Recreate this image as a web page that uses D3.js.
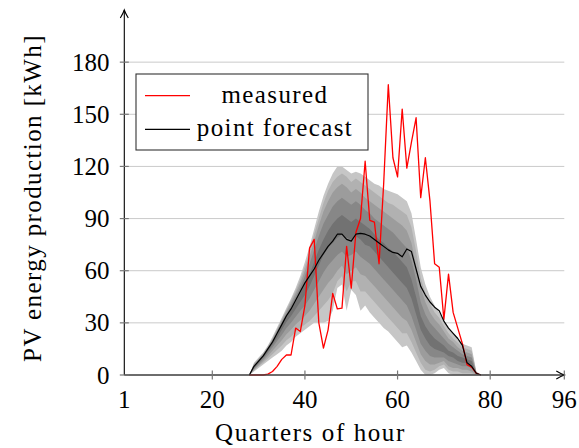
<!DOCTYPE html>
<html>
<head>
<meta charset="utf-8">
<script src="https://cdn.jsdelivr.net/npm/d3@7"></script>
<style>
  html, body { margin: 0; padding: 0; background: #fff; }
  svg { display: block; }
</style>
</head>
<body>
<svg id="chart" width="579" height="448"></svg>
<script>
// ---------- data ----------
const quarters = [28,29,30,31,32,33,34,35,36,37,38,39,40,41,42,43,44,45,46,47,48,49,50,51,52,53,54,55,56,57,58,59,60,61,62,63,64,65,66,67,68,69,70,71,72,73,74,75,76,77,78];

const measured = [0,0,0,0,0.5,2,5,9,11.5,11.5,27,25,40,73,78,30,15.5,26,47,38,38.5,74,50,82,90,123,89,88,64,110,167,125,114,153,119,134,148,102,125,100,64,62,32,58,36,27,18,6,4.5,1,0];

const pointForecast = [0,5,8,11,15,19,24,29,34,38,43,48,53,57,61,66,70,74,77,81,81,78,77,81,81.5,81,80,78,76,74,72,70.5,70,68,72.5,71,61,51,46,42,39,37,31,27,24,21,17,7,5,1,0];

// quantile bounds (lower / upper of nested prediction intervals)
const q05 = [0,2,4,6,8,10,12,14,17,19, 22,24,26,28,30,30,30,31,37,50, 52,37,49,46,37,40,36,33,30,27, 25,22,19,16,17,13,8,3,0,0, 1,3,4,1,0,0,0,0,0,0, 0];
const q15 = [0,2.5,5,7,9.5,12,14.5,17,20,22, 25,27,29,31,34,37,40,43,47,54, 57,48,54,54,48,48,45,42,39,36, 33,30,27,24,24,19,13,7,3,2, 3,5,6,3,2,2,1,1,1,0, 0];
const q25 = [0,3,5.5,8,11,14,17,20,23.5,26, 29,31.5,34,37,41,45,49,53,56,60, 63,58,60,62,58,57,54,51,48,45, 42,39,36,33,31,26,19,12,8,6, 6,7,8,5,4,4,3,3,2,0.5, 0];
const q35 = [0,3.5,6.5,9,12.5,16,19.5,23,27,30, 33.5,37,40,44,49,54,59,63,66,69, 71,68,69,71,68,66,64,61,58,55, 52,49,46,43,40,34,26,18,14,11, 10,10,10,8,7,6,5,5,4,0.5, 0];
const q45 = [0,4,7,10,13.5,17.5,21.5,26,30.5,34, 38,42,46,51,57,63,69,73,76,79, 81,79,78,80,78,75,74,71,68,65, 62,59,56,53,50,44,35,26,21,17, 15,14,13,11,10,8,7,7,6,1, 0];
const q55 = [0,5,8,11,14.5,19,23.5,28.5,33,37.5, 42,47,52,58,65,72,78,83,87,90, 92,90,88,90,88,86,84,81,78,76, 73,71,68,65,62,55,45,34,28,24, 21,19,17,14,13,11,10,9,8,1, 0];
const q65 = [0,5.5,8.5,11.5,15.5,20,25,30,35,40, 45,50.5,57,64,72,80,87,92,97,100, 102,100,98,100,98,95,93,90,88,86, 84,82,79,76,73,66,55,42,35,30, 27,24,21,18,16,14,12,11,10,1.5, 0];
const q75 = [0,6,9,12,16,20.5,26,31,36.5,41.5, 47,53,60,68,77,86,94,100,105,108, 110,108,105,107,105,102,100,98,96,94, 92,90,88,86,83,76,63,50,42,36, 32,29,25,21,19,16,14,13,12,1.5, 0];
const q85 = [0,6.5,9.5,12.5,16.5,21,26.5,32,37.5,43, 48.5,55,62.5,71,81,90,99,106,111,114, 116,114,111,113,111,109,107,105,103,101, 99,98,96,94,92,85,71,56,47,41, 36,33,28,24,21,18.5,16,15,14,2, 0];
const q95 = [0,7,10,13,17,22,27.5,33,38.5,44, 50,57,65,74,84,94,103,110,116,120, 120,118,116,117,116,114,112,110,109,107, 106,105,104,102,100,93,78,62,52,45, 40,36,31,27,24,21,18,17,16,2, 0];

const bands = [
  {lo: q05, hi: q95, color: "#c6c6c6"},
  {lo: q15, hi: q85, color: "#b1b1b1"},
  {lo: q25, hi: q75, color: "#9c9c9c"},
  {lo: q35, hi: q65, color: "#878787"},
  {lo: q45, hi: q55, color: "#727272"}
];

const yTicks = [0,30,60,90,120,150,180];
const xTicks = [1,20,40,60,80,96];
const xTickMarks = [20,40,60,80,96];
const legendItems = [
  {label: "measured", color: "#ff0000"},
  {label: "point forecast", color: "#000000"}
];

const FONT = '"Liberation Serif"';

// ---------- layout ----------
const svg = d3.select("#chart");
const x = d3.scaleLinear().domain([1, 96]).range([124.3, 564.3]);
const y = d3.scaleLinear().domain([0, 210]).range([375, 10]);

// grid
svg.append("g").selectAll("line").data(yTicks).join("line")
  .attr("x1", x(1)).attr("x2", x(96))
  .attr("y1", d => y(d)).attr("y2", d => y(d))
  .attr("stroke", "#cacaca").attr("stroke-width", 1);

// bands
bands.forEach(b => {
  const area = d3.area()
    .x((d, i) => x(quarters[i]))
    .y0((d, i) => y(b.lo[i]))
    .y1((d, i) => y(b.hi[i]));
  svg.append("path").datum(quarters).attr("d", area).attr("fill", b.color);
});

// lines
const line = arr => d3.line().x((d, i) => x(quarters[i])).y((d, i) => y(arr[i]))(quarters);
svg.append("path").attr("d", line(measured)).attr("fill", "none")
  .attr("stroke", "#ff0000").attr("stroke-width", 1.3).attr("stroke-linejoin", "round");
svg.append("path").attr("d", line(pointForecast)).attr("fill", "none")
  .attr("stroke", "#000").attr("stroke-width", 1.2).attr("stroke-linejoin", "round");

// axes lines
svg.append("line").attr("x1", x(1)).attr("x2", x(96)).attr("y1", y(0)).attr("y2", y(0))
  .attr("stroke", "#444").attr("stroke-width", 1.4);
svg.append("line").attr("x1", x(1)).attr("x2", x(1)).attr("y1", y(0)).attr("y2", y(210))
  .attr("stroke", "#000").attr("stroke-width", 1.1);
// arrow heads
svg.append("path")
  .attr("d", `M${x(1)-4},${y(210)+8} Q${x(1)-1},${y(210)+3} ${x(1)},${y(210)} Q${x(1)+1},${y(210)+3} ${x(1)+4},${y(210)+8}`)
  .attr("fill", "none").attr("stroke", "#000").attr("stroke-width", 1.1);
svg.append("path")
  .attr("d", `M${x(96)-8},${y(0)-4} Q${x(96)-3},${y(0)-1} ${x(96)},${y(0)} Q${x(96)-3},${y(0)+1} ${x(96)-8},${y(0)+4}`)
  .attr("fill", "none").attr("stroke", "#000").attr("stroke-width", 1.1);

// y ticks
svg.append("g").selectAll("line").data(yTicks).join("line")
  .attr("x1", x(1) - 4.5).attr("x2", x(1) + 4.5)
  .attr("y1", d => y(d)).attr("y2", d => y(d))
  .attr("stroke", "#777").attr("stroke-width", 1.2);
svg.append("g").selectAll("text").data(yTicks).join("text")
  .attr("x", 109.5).attr("y", d => y(d) + 8.5)
  .style("font-family", FONT).attr("font-size", 25)
  .attr("text-anchor", "end").text(d => d);

// x ticks
svg.append("g").selectAll("line").data(xTickMarks).join("line")
  .attr("x1", d => x(d)).attr("x2", d => x(d))
  .attr("y1", y(0) - 4.5).attr("y2", y(0) + 4.5)
  .attr("stroke", "#777").attr("stroke-width", 1.2);
svg.append("g").selectAll("text").data(xTicks).join("text")
  .attr("x", d => x(d)).attr("y", 408)
  .style("font-family", FONT).attr("font-size", 25)
  .attr("text-anchor", "middle").text(d => d);

// axis labels
svg.append("text").attr("x", 310.5).attr("y", 441)
  .style("font-family", FONT).attr("font-size", 25).attr("letter-spacing", 1.6)
  .attr("text-anchor", "middle")
  .text("Quarters of hour");
svg.append("text")
  .attr("transform", "translate(41,198) rotate(-90)")
  .style("font-family", FONT).attr("font-size", 25).attr("letter-spacing", 1.4)
  .attr("text-anchor", "middle")
  .text("PV energy production [kWh]");

// legend
const lg = svg.append("g");
lg.append("rect").attr("x", 136).attr("y", 74).attr("width", 232).attr("height", 76)
  .attr("fill", "#fff").attr("stroke", "#333").attr("stroke-width", 1.1);
const rowY = [95.7, 129.3];
const textY = [103, 136];
legendItems.forEach((it, i) => {
  lg.append("line").attr("x1", 145).attr("x2", 190).attr("y1", rowY[i]).attr("y2", rowY[i])
    .attr("stroke", it.color).attr("stroke-width", 1.3);
  lg.append("text").attr("x", 275).attr("y", textY[i]).attr("text-anchor", "middle")
    .style("font-family", FONT).attr("font-size", 25).attr("letter-spacing", 1.4)
    .text(it.label);
});
</script>
</body>
</html>
